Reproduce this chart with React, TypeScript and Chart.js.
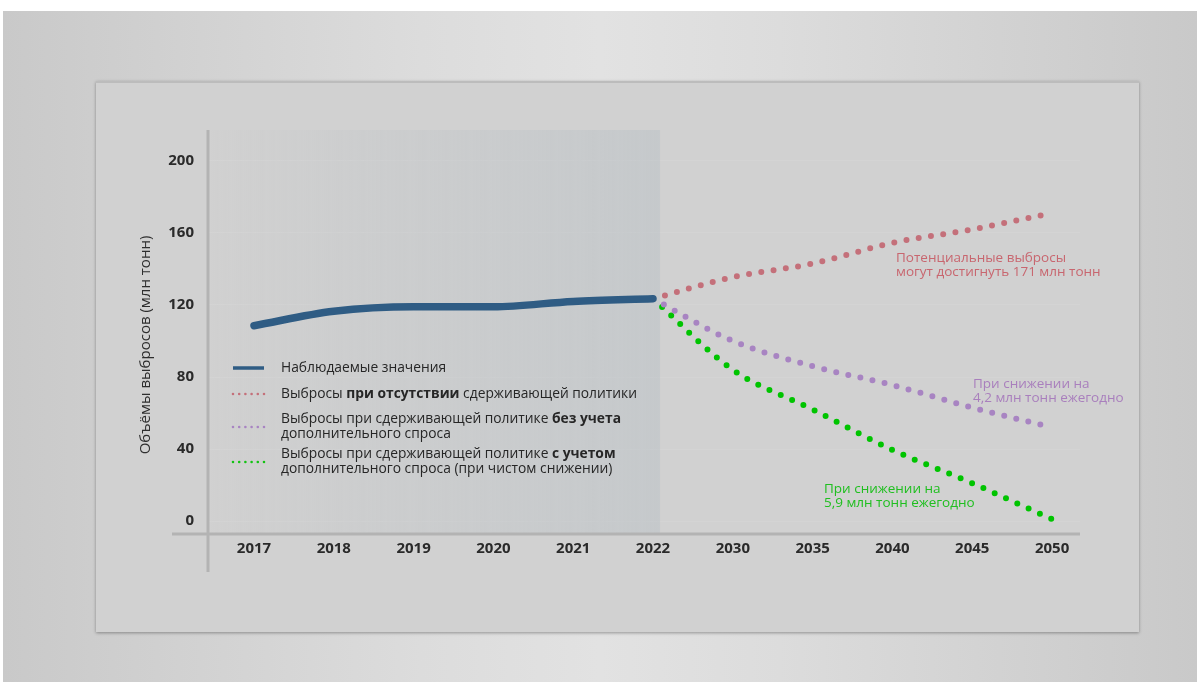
import React, { useEffect, useRef } from "react";
import { Chart, registerables } from "chart.js";

Chart.register(...registerables);

// ---------- data ----------
const categories = ["2017", "2018", "2019", "2020", "2021", "2022", "2030", "2035", "2040", "2045", "2050"];
const observedValues = [108.5, 116.5, 119, 119, 122, 123.5];
const noPolicyValues = [123.5, 135.5, 143, 154.5, 162, 171];
const policyNoDemandValues = [123.5, 100, 86, 75.5, 63, 52];
const policyWithDemandValues = [123.5, 84, 62, 39.5, 21, 1];
const yTickValues = [0, 40, 80, 120, 160, 200];
const forecastStartIndex = 5;

const yAxisTitle = "Объёмы выбросов (млн тонн)";
const legendItems = [
  { kind: "solid", color: "#2f5c84", lines: [[{ t: "Наблюдаемые значения", b: false }]] },
  {
    kind: "dot",
    color: "#c4707a",
    lines: [[
      { t: "Выбросы ", b: false },
      { t: "при отсутствии", b: true },
      { t: " сдерживающей политики", b: false },
    ]],
  },
  {
    kind: "dot",
    color: "#a884c2",
    lines: [
      [{ t: "Выбросы при сдерживающей политике ", b: false }, { t: "без учета", b: true }],
      [{ t: "дополнительного спроса", b: false }],
    ],
  },
  {
    kind: "dot",
    color: "#13c313",
    lines: [
      [{ t: "Выбросы при сдерживающей политике ", b: false }, { t: "с учетом", b: true }],
      [{ t: "дополнительного спроса (при чистом снижении)", b: false }],
    ],
  },
];
const annotations = [
  { color: "#c8666f", lines: ["Потенциальные выбросы", "могут достигнуть 171 млн тонн"], x: 896, y: 258 },
  { color: "#a97fbd", lines: ["При снижении на", "4,2 млн тонн ежегодно"], x: 973, y: 384 },
  { color: "#1fbf1f", lines: ["При снижении на", "5,9 млн тонн ежегодно"], x: 824, y: 489 },
];

const FONT = "'Open Sans', 'DejaVu Sans', sans-serif";

const toPoints = (vals: number[], start: number) => vals.map((v, i) => ({ x: start + i, y: v }));

const decorPlugin = {
  id: "decor",
  beforeDatasetsDraw(chart: any) {
    const { ctx, chartArea, scales } = chart;
    const xs = scales.x;
    const left = chartArea.left;
    const shadeRight = xs.getPixelForValue(forecastStartIndex) + 7;
    ctx.save();
    const g = ctx.createLinearGradient(left, 0, shadeRight, 0);
    g.addColorStop(0, "rgba(196,199,201,0.0)");
    g.addColorStop(0.35, "rgba(194,198,201,0.3)");
    g.addColorStop(1, "rgba(190,196,200,0.6)");
    ctx.fillStyle = g;
    ctx.fillRect(left, chartArea.top, shadeRight - left, chartArea.bottom - chartArea.top);
    // axis lines
    ctx.strokeStyle = "#b3b3b3";
    ctx.lineWidth = 3;
    ctx.beginPath();
    ctx.moveTo(left, chartArea.top);
    ctx.lineTo(left, chartArea.bottom + 38);
    ctx.stroke();
    ctx.beginPath();
    ctx.moveTo(left - 36, chartArea.bottom);
    ctx.lineTo(chartArea.right, chartArea.bottom);
    ctx.stroke();
    // y axis title
    ctx.translate(146, 345);
    ctx.rotate(-Math.PI / 2);
    ctx.fillStyle = "#2e2e2e";
    ctx.font = `15px ${FONT}`;
    ctx.textAlign = "center";
    ctx.textBaseline = "middle";
    ctx.fillText(yAxisTitle, 0, 0);
    ctx.restore();
  },
  afterDatasetsDraw(chart: any) {
    const { ctx } = chart;
    ctx.save();
    ctx.textBaseline = "middle";
    ctx.textAlign = "left";
    // legend
    const itemY = [368, 394, 427, 462];
    legendItems.forEach((item, i) => {
      const cy = itemY[i];
      ctx.strokeStyle = item.color;
      ctx.lineCap = item.kind === "solid" ? "butt" : "round";
      if (item.kind === "solid") {
        ctx.setLineDash([]);
        ctx.lineWidth = 3.5;
        ctx.beginPath();
        ctx.moveTo(233, cy);
        ctx.lineTo(264, cy);
        ctx.stroke();
      } else {
        ctx.setLineDash([0, 6.2]);
        ctx.lineWidth = 2.6;
        ctx.beginPath();
        ctx.moveTo(233, cy);
        ctx.lineTo(265, cy);
        ctx.stroke();
      }
      ctx.setLineDash([]);
      const n = item.lines.length;
      item.lines.forEach((line, li) => {
        const ly = n === 1 ? cy : cy - 7.5 + li * 15;
        let x = 281;
        line.forEach((seg) => {
          ctx.font = `${seg.b ? "bold " : ""}13.8px ${FONT}`;
          ctx.fillStyle = "#262626";
          ctx.fillText(seg.t, x, ly);
          x += ctx.measureText(seg.t).width;
        });
      });
    });
    // annotations
    annotations.forEach((a) => {
      ctx.fillStyle = a.color;
      ctx.font = `13.5px ${FONT}`;
      a.lines.forEach((l, li) => ctx.fillText(l, a.x, a.y + li * 14));
    });
    ctx.restore();
  },
};

export default function App() {
  const canvasRef = useRef<HTMLCanvasElement | null>(null);

  useEffect(() => {
    if (!canvasRef.current) return;
    const dotted = (label: string, color: string, vals: number[]) => ({
      label,
      data: toPoints(vals, forecastStartIndex),
      borderColor: color,
      backgroundColor: color,
      borderWidth: 6,
      borderDash: [0, 12.4],
      borderCapStyle: "round",
      pointRadius: 0,
      tension: 0.25,
      cubicInterpolationMode: "monotone",
      order: 2,
    });
    const chart = new Chart(canvasRef.current, {
      type: "line",
      data: {
        datasets: [
          dotted("no policy", "#c4707a", noPolicyValues),
          dotted("policy without demand", "#a884c2", policyNoDemandValues),
          dotted("policy with demand", "#00c400", policyWithDemandValues),
          {
            label: "observed",
            data: toPoints(observedValues, 0),
            borderColor: "#2f5c84",
            borderWidth: 7.5,
            borderCapStyle: "round",
            borderJoinStyle: "round",
            pointRadius: 0,
            tension: 0.3,
            cubicInterpolationMode: "monotone",
            order: 1,
          } as any,
        ] as any,
      },
      options: {
        responsive: false,
        animation: false,
        devicePixelRatio: 1,
        layout: { padding: { left: 130, top: 130, right: 117, bottom: 0 } },
        plugins: { legend: { display: false }, tooltip: { enabled: false } },
        scales: {
          x: {
            type: "linear",
            min: -0.576,
            max: 10.35,
            grid: { display: false, drawTicks: false },
            border: { display: false },
            afterBuildTicks: (scale: any) => {
              scale.ticks = categories.map((_, i) => ({ value: i }));
            },
            afterFit: (scale: any) => {
              scale.height = 682 - 534;
            },
            ticks: {
              autoSkip: false,
              maxRotation: 0,
              padding: 6,
              color: "#2a2a2a",
              font: { family: FONT, size: 15, weight: "bold" },
              callback: (v: any) => categories[Math.round(v)] ?? "",
            },
          },
          y: {
            type: "linear",
            min: -7.2,
            max: 217.2,
            grid: { color: "rgba(255,255,255,0.07)", drawTicks: false, lineWidth: 1 },
            border: { display: false },
            afterBuildTicks: (scale: any) => {
              scale.ticks = yTickValues.map((v) => ({ value: v }));
            },
            afterFit: (scale: any) => {
              scale.width = 78;
            },
            ticks: {
              padding: 14,
              color: "#2a2a2a",
              font: { family: FONT, size: 15, weight: "bold" },
            },
          },
        },
      } as any,
      plugins: [decorPlugin],
    });
    return () => chart.destroy();
  }, []);

  return (
    <div style={{ position: "absolute", left: 0, top: 0, width: 1197, height: 682, background: "#ffffff", overflow: "hidden" }}>
      <div
        style={{
          position: "absolute",
          left: 3,
          top: 11,
          right: 0,
          bottom: 0,
          background: "linear-gradient(to right, #c9c9c9 0%, #dcdcdc 35%, #e2e2e2 50%, #dcdcdc 65%, #c9c9c9 100%)",
        }}
      />
      <div
        style={{
          position: "absolute",
          left: 96,
          top: 81,
          width: 1043,
          height: 551,
          background: "#d1d1d1",
          borderTop: "2px solid #bcbcbc",
          boxSizing: "border-box",
          boxShadow: "0 1px 3px rgba(0,0,0,0.35)",
        }}
      />
      <canvas ref={canvasRef} width={1197} height={682} style={{ position: "absolute", left: 0, top: 0 }} />
    </div>
  );
}
